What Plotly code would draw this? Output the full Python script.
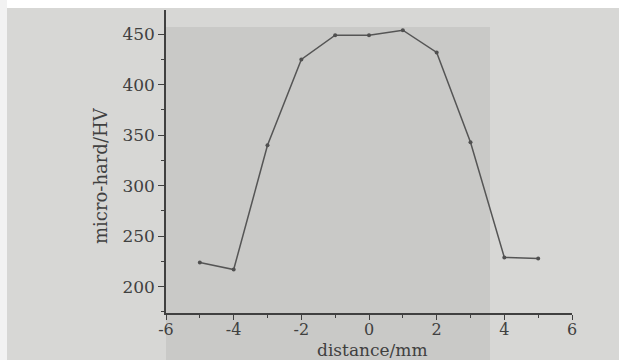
import plotly.graph_objects as go

distance = [-5, -4, -3, -2, -1, 0, 1, 2, 3, 4, 5]
hardness = [224, 217, 340, 425, 449, 449, 454, 432, 343, 229, 228]

x_ticks = [-6, -4, -2, 0, 2, 4, 6]
x_labels = ["-6", "-4", "-2", "0", "2", "4", "6"]
y_ticks = [200, 250, 300, 350, 400, 450]

ink = "#404040"
font = "DejaVu Serif"
W, H = 619, 360
L, R, T, B = 166, 47, 10, 47
pw, ph = W - L - R, H - T - B

def px_x(px):
    return (px - L) / pw

def px_y(py):
    return (H - B - py) / ph

fig = go.Figure()
fig.add_trace(go.Scatter(
    x=distance, y=hardness, mode="lines+markers",
    line=dict(color="#555555", width=1.5),
    marker=dict(color="#505050", size=4),
    showlegend=False,
))

shapes = [
    # darker scanned region behind the plot
    dict(type="rect", xref="paper", yref="paper", layer="below",
         x0=px_x(166), x1=px_x(490), y0=px_y(360), y1=px_y(27),
         fillcolor="#c9c9c7", line=dict(width=0)),
    # white strips at the scan edges
    dict(type="rect", xref="paper", yref="paper", layer="below",
         x0=px_x(0), x1=px_x(619), y0=px_y(8), y1=px_y(0),
         fillcolor="#ffffff", line=dict(width=0)),
    dict(type="rect", xref="paper", yref="paper", layer="below",
         x0=px_x(0), x1=px_x(7), y0=px_y(360), y1=px_y(0),
         fillcolor="#f2f2f2", line=dict(width=0)),
]

fig.update_layout(
    width=W, height=H,
    margin=dict(l=L, r=R, t=T, b=B),
    paper_bgcolor="#d7d7d5",
    plot_bgcolor="rgba(0,0,0,0)",
    font=dict(family=font, size=17, color=ink),
    shapes=shapes,
    xaxis=dict(
        range=[-6, 6], tickvals=x_ticks, ticktext=x_labels,
        showgrid=False, zeroline=False, showline=True, linecolor=ink, linewidth=1.5,
        ticks="outside", ticklen=5, tickwidth=1.2, tickcolor=ink,
        ticklabelstandoff=-4,
        minor=dict(tickvals=[-5, -3, -1, 1, 3, 5], ticks="outside", ticklen=3, tickcolor=ink),
        tickfont=dict(family=font, size=16, color=ink),
    ),
    yaxis=dict(
        range=[174, 474], tickvals=y_ticks,
        showgrid=False, zeroline=False, showline=True, linecolor=ink, linewidth=1.5,
        ticks="outside", ticklen=6, tickwidth=1.2, tickcolor=ink,
        minor=dict(tickvals=[175, 225, 275, 325, 375, 425], ticks="outside", ticklen=3, tickcolor=ink),
        tickfont=dict(family=font, size=17, color=ink),
    ),
    annotations=[
        dict(text="distance/mm", xref="paper", yref="paper", x=px_x(372), y=px_y(350),
             xanchor="center", yanchor="middle", showarrow=False,
             font=dict(family=font, size=17, color=ink)),
        dict(text="micro-hard/HV", xref="paper", yref="paper", x=px_x(100), y=px_y(176),
             xanchor="center", yanchor="middle", textangle=-90, showarrow=False,
             font=dict(family=font, size=18, color=ink)),
    ],
)

fig.write_html(
    "out.html",
    config={"displayModeBar": False},
    post_script="document.body.style.margin='0';document.body.style.overflow='hidden';",
)
